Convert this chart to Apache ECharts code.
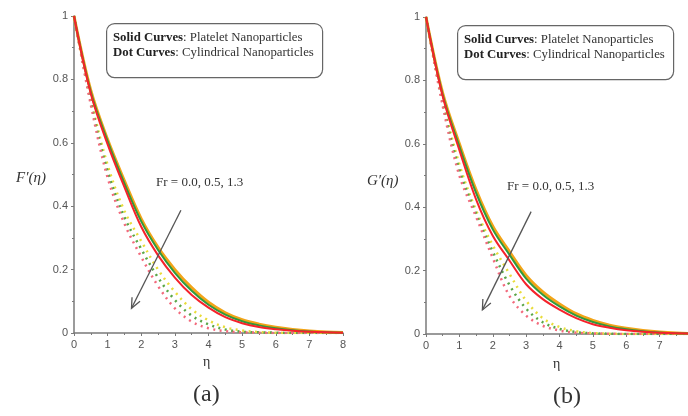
<!DOCTYPE html>
<html><head><meta charset="utf-8">
<script src="https://cdn.jsdelivr.net/npm/echarts@6/dist/echarts.min.js"></script>
<style>html,body{margin:0;padding:0;background:#fff}#c{width:688px;height:416px}</style>
</head><body><div id="c"></div>
<script>
var eta = [0,0.5,1,1.5,2,2.5,3,3.5,4,4.5,5,5.5,6,6.5,7,7.5,8];
var yTicks = [0,0.2,0.4,0.6,0.8,1];
var xTicks = [0,1,2,3,4,5,6,7,8];
// panel (a) F'(eta)
var fSolid00 = [1,0.765,0.61,0.48,0.36,0.27,0.2,0.143,0.097,0.064,0.042,0.028,0.018,0.011,0.006,0.003,0.0015];
var fSolid05 = [1,0.76,0.605,0.472,0.352,0.262,0.19,0.133,0.089,0.058,0.037,0.024,0.015,0.009,0.005,0.0025,0.001];
var fSolid13 = [1,0.755,0.595,0.46,0.335,0.245,0.175,0.12,0.08,0.05,0.031,0.019,0.012,0.007,0.004,0.002,0.001];
var fDot00 = [1,0.74,0.53,0.385,0.29,0.2,0.13,0.075,0.04,0.018,0.008,0.003,0.001,0,0,0,0];
var fDot05 = [1,0.73,0.51,0.365,0.265,0.175,0.104,0.055,0.027,0.011,0.004,0.002,0.001,0,0,0,0];
var fDot13 = [1,0.72,0.49,0.345,0.24,0.148,0.078,0.036,0.015,0.006,0.002,0.001,0,0,0,0,0];
// panel (b) G'(eta)
var gSolid00 = [1,0.76,0.6,0.455,0.34,0.26,0.185,0.133,0.095,0.064,0.043,0.028,0.018,0.011,0.006,0.003,0.0015];
var gSolid05 = [1,0.755,0.592,0.445,0.33,0.25,0.175,0.124,0.087,0.058,0.038,0.024,0.015,0.009,0.005,0.0025,0.001];
var gSolid13 = [1,0.75,0.58,0.425,0.31,0.232,0.157,0.11,0.077,0.05,0.031,0.02,0.012,0.007,0.004,0.002,0.001];
var gDot00 = [1,0.74,0.535,0.39,0.28,0.19,0.105,0.05,0.022,0.009,0.003,0.001,0,0,0,0,0];
var gDot05 = [1,0.73,0.518,0.38,0.26,0.155,0.08,0.037,0.016,0.006,0.002,0.001,0,0,0,0,0];
var gDot13 = [1,0.72,0.5,0.37,0.24,0.12,0.058,0.026,0.011,0.004,0.002,0.001,0,0,0,0,0];
// arrows (data coords) [start, end]
var arrowA = [[3.18,0.387],[1.71,0.078]];
var arrowB = [[3.15,0.386],[1.69,0.076]];

var colOrange = '#f2a418', colGreen = '#2f9a3c', colRed = '#f5222a';
var colDotYellow = '#e9dc3a', colDotGreen = '#5aa548', colDotPink = '#f26a7c';

function pairs(ys){ return eta.map(function(x,i){ return [x, ys[i]]; }); }
function solid(idx, ys, color, w){
  return {type:'line', xAxisIndex:idx, yAxisIndex:idx, data:pairs(ys), smooth:0.35, showSymbol:false,
    lineStyle:{color:color, width:w}, z:3, silent:true};
}
function dot(idx, ys, color){
  return {type:'line', xAxisIndex:idx, yAxisIndex:idx, data:pairs(ys), smooth:0.35, showSymbol:false,
    lineStyle:{color:color, width:2.5, type:[2,4.5], cap:'butt'}, z:2, silent:true};
}
function xAx(idx){
  return {type:'value', gridIndex:idx, min:0, max:8, interval:1,
    axisLine:{lineStyle:{color:'#7a7a7a', width:1.5}},
    axisTick:{show:true, length:3, lineStyle:{color:'#7a7a7a'}},
    minorTick:{show:true, splitNumber:2, length:2, lineStyle:{color:'#7a7a7a'}},
    splitLine:{show:false},
    axisLabel:{color:'#555', fontSize:11, fontFamily:'Liberation Sans', margin:6}};
}
function yAx(idx){
  return {type:'value', gridIndex:idx, min:0, max:1, interval:0.2,
    axisLine:{show:true, lineStyle:{color:'#7a7a7a', width:1.5}},
    axisTick:{show:true, length:3, lineStyle:{color:'#7a7a7a'}},
    minorTick:{show:true, splitNumber:2, length:2, lineStyle:{color:'#7a7a7a'}},
    splitLine:{show:false},
    axisLabel:{color:'#555', fontSize:11, fontFamily:'Liberation Sans', margin:6}};
}
function legendBox(x, y, w, h){
  return [
    {type:'rect', left:x, top:y, shape:{width:w, height:h, r:8}, style:{fill:'#fff', stroke:'#666', lineWidth:1.2}, z:10},
    {type:'text', left:x+7, top:y+8, z:11, style:{
      text:'{b|Solid Curves}{n|: Platelet Nanoparticles}\n{b|Dot Curves}{n|: Cylindrical Nanoparticles}',
      rich:{b:{fontFamily:'Liberation Serif', fontWeight:'bold', fontSize:12.8, fill:'#222', lineHeight:15},
            n:{fontFamily:'Liberation Serif', fontSize:12.8, fill:'#333', lineHeight:15}}}}
  ];
}
function txt(x, y, s, size, extra){
  var st = {text:s, fontFamily:'Liberation Serif', fontSize:size, fill:'#333', textVerticalAlign:'middle'};
  if (extra) for (var k in extra) st[k]=extra[k];
  return {type:'text', left:x, top:y, z:11, style:st};
}

var chart = echarts.init(document.getElementById('c'));
chart.setOption({
  backgroundColor:'#fff',
  animation:false,
  grid:[{left:74, top:16, width:269, height:317, outerBoundsMode:'none', containLabel:false},
        {left:426, top:17, width:267, height:317, outerBoundsMode:'none', containLabel:false}],
  xAxis:[xAx(0), xAx(1)],
  yAxis:[yAx(0), yAx(1)],
  series:[
    dot(0, fDot00, colDotYellow), dot(0, fDot05, colDotGreen), dot(0, fDot13, colDotPink),
    solid(0, fSolid00, colOrange, 3), solid(0, fSolid05, colGreen, 2), solid(0, fSolid13, colRed, 2),
    dot(1, gDot00, colDotYellow), dot(1, gDot05, colDotGreen), dot(1, gDot13, colDotPink),
    solid(1, gSolid00, colOrange, 3), solid(1, gSolid05, colGreen, 2), solid(1, gSolid13, colRed, 2)
  ],
  graphic:[].concat(
    legendBox(106, 23, 216, 54),
    legendBox(457, 25, 216, 54),
    [
      txt(16, 171, 'F′(η)', 15, {fontStyle:'italic'}),
      txt(367, 174, 'G′(η)', 15, {fontStyle:'italic'}),
      txt(156, 176, 'Fr = 0.0, 0.5, 1.3', 13),
      txt(507, 180, 'Fr = 0.0, 0.5, 1.3', 13),
      txt(203, 355, 'η', 14),
      txt(553, 357, 'η', 14),
      txt(193, 383, '(a)', 24),
      txt(553, 385, '(b)', 24)
    ]
  )
});

// annotation arrows with open heads, placed through the axes' scales
function arrowGraphics(gridIdx, a){
  var p0 = chart.convertToPixel({gridIndex:gridIdx}, a[0]);
  var p1 = chart.convertToPixel({gridIndex:gridIdx}, a[1]);
  var dx = p0[0]-p1[0], dy = p0[1]-p1[1], L = Math.sqrt(dx*dx+dy*dy);
  var ux = dx/L, uy = dy/L, h = 11, ang = 24*Math.PI/180;
  function rot(x,y,t){ return [x*Math.cos(t)-y*Math.sin(t), x*Math.sin(t)+y*Math.cos(t)]; }
  var r1 = rot(ux,uy,ang), r2 = rot(ux,uy,-ang);
  var st = {stroke:'#555', lineWidth:1.3, fill:null};
  return [
    {type:'line', shape:{x1:p0[0], y1:p0[1], x2:p1[0], y2:p1[1]}, style:st, z:12},
    {type:'polyline', shape:{points:[[p1[0]+r1[0]*h, p1[1]+r1[1]*h],[p1[0],p1[1]],[p1[0]+r2[0]*h, p1[1]+r2[1]*h]]}, style:st, z:12}
  ];
}
chart.setOption({graphic: arrowGraphics(0, arrowA).concat(arrowGraphics(1, arrowB)).map(function(e, i){ e.id = 'arrow'+i; return e; })});
</script></body></html>
